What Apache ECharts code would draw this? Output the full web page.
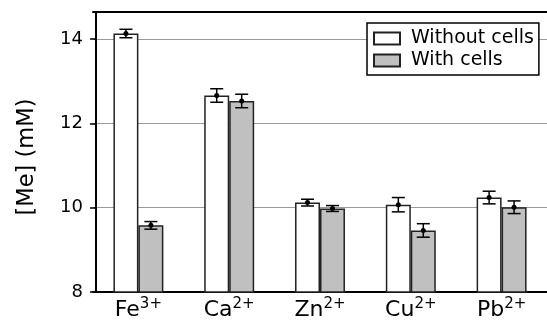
<!DOCTYPE html>
<html>
<head>
<meta charset="utf-8">
<script src="https://cdn.jsdelivr.net/npm/echarts@6/dist/echarts.min.js"></script>
<style>
html,body{margin:0;padding:0;background:#fff;}
#c{width:547px;height:324px;}
</style>
</head>
<body>
<div id="c"></div>
<script>
var elements = ['Fe', 'Ca', 'Zn', 'Cu', 'Pb'];
var charges = ['3+', '2+', '2+', '2+', '2+'];
var withoutCells = [14.13, 12.66, 10.12, 10.07, 10.24];
var withoutCellsErr = [0.10, 0.16, 0.08, 0.17, 0.15];
var withCells = [9.58, 12.53, 9.98, 9.46, 10.01];
var withCellsErr = [0.09, 0.16, 0.07, 0.16, 0.15];
var yTicks = [8, 10, 12, 14];

var FONT = '"DejaVu Sans", Verdana, sans-serif';
var BAR_PCT = 0.275;

var categories = elements.map(function (e, i) { return e + '|' + charges[i]; });

function errData(vals, errs) {
  return vals.map(function (v, i) { return [i, v, errs[i]]; });
}

function makeErr(sign) {
  return function (params, api) {
    var idx = api.value(0), v = api.value(1), e = api.value(2);
    var band = api.size([1, 0])[0];
    var c = api.coord([idx, v]);
    var x = c[0] + sign * band * BAR_PCT / 2;
    var yt = api.coord([idx, v + e])[1];
    var yb = api.coord([idx, v - e])[1];
    var hw = 6.5;
    var st = { stroke: '#000', lineWidth: 1.5 };
    return {
      type: 'group',
      children: [
        { type: 'line', shape: { x1: x, y1: yt, x2: x, y2: yb }, style: st },
        { type: 'line', shape: { x1: x - hw, y1: yt, x2: x + hw, y2: yt }, style: st },
        { type: 'line', shape: { x1: x - hw, y1: yb, x2: x + hw, y2: yb }, style: st },
        { type: 'circle', shape: { cx: x, cy: c[1], r: 2.5 }, style: { fill: '#000' } }
      ]
    };
  };
}

var chart = echarts.init(document.getElementById('c'));
chart.setOption({
  animation: false,
  backgroundColor: '#fff',
  textStyle: { fontFamily: FONT },
  grid: { left: 93, right: 0, top: 12, bottom: 32, containLabel: false },
  legend: {
    orient: 'vertical',
    left: 367, top: 23,
    backgroundColor: '#fff',
    borderColor: '#000',
    borderWidth: 1.5,
    borderRadius: 0,
    padding: [6, 5, 5, 6],
    itemWidth: 26, itemHeight: 12,
    itemGap: 3,
    icon: 'rect',
    textStyle: { fontFamily: FONT, fontSize: 19, color: '#000', lineHeight: 18, padding: [0, 0, 0, 6] },
    data: ['Without cells', 'With cells']
  },
  xAxis: [{
    type: 'category',
    data: categories,
    axisLine: { lineStyle: { color: '#000', width: 2 } },
    axisTick: { show: false },
    axisLabel: {
      interval: 0,
      margin: 5,
      formatter: function (v) {
        var p = v.split('|');
        return '{b|' + p[0] + '}{s|' + p[1] + '}';
      },
      rich: {
        b: { fontFamily: FONT, fontSize: 22, color: '#000', lineHeight: 26 },
        s: { fontFamily: FONT, fontSize: 15, color: '#000', lineHeight: 10, verticalAlign: 'top' }
      }
    }
  }, {
    type: 'category',
    position: 'top',
    data: categories,
    axisLine: { lineStyle: { color: '#000', width: 2 } },
    axisTick: { show: false },
    axisLabel: { show: false }
  }],
  yAxis: {
    type: 'value',
    min: 8, max: 14.64,
    interval: 2,
    offset: -3,
    name: '[Me] (mM)',
    nameLocation: 'middle',
    nameGap: 57,
    nameTextStyle: { fontFamily: FONT, fontSize: 22.5, color: '#000', padding: [0, 10, 0, 0] },
    axisLine: { show: true, lineStyle: { color: '#000', width: 2 } },
    axisTick: { show: true, length: 6, lineStyle: { color: '#000', width: 1.5 }, customValues: yTicks },
    axisLabel: { margin: 13, fontFamily: FONT, fontSize: 18, color: '#000', customValues: yTicks },
    splitLine: { show: true, lineStyle: { color: '#999', width: 1 } }
  },
  series: [{
    name: 'Without cells',
    type: 'bar',
    data: withoutCells,
    barWidth: (BAR_PCT * 100) + '%',
    barGap: '0%',
    itemStyle: { color: '#fff', borderColor: '#222', borderWidth: 1.5 }
  }, {
    name: 'With cells',
    type: 'bar',
    data: withCells,
    barWidth: (BAR_PCT * 100) + '%',
    barGap: '0%',
    itemStyle: { color: '#c0c0c0', borderColor: '#222', borderWidth: 1.5 }
  }, {
    type: 'custom',
    renderItem: makeErr(-1),
    data: errData(withoutCells, withoutCellsErr),
    encode: { x: 0, y: 1 },
    z: 5
  }, {
    type: 'custom',
    renderItem: makeErr(1),
    data: errData(withCells, withCellsErr),
    encode: { x: 0, y: 1 },
    z: 5
  }]
});
</script>
</body>
</html>
